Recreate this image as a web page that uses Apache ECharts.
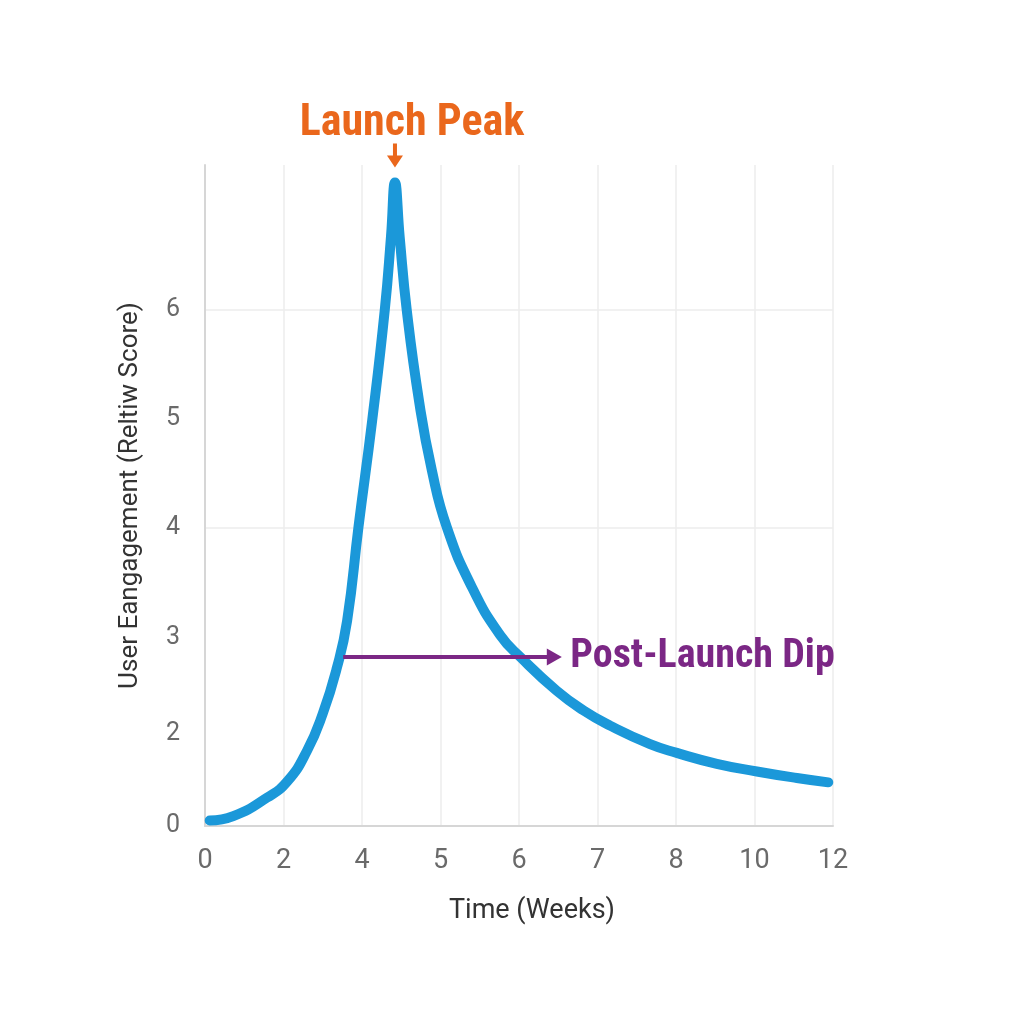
<!DOCTYPE html>
<html>
<head>
<meta charset="utf-8">
<script src="https://cdn.jsdelivr.net/npm/echarts@6/dist/echarts.min.js"></script>
<style>
  html, body { margin: 0; padding: 0; background: #ffffff; }
  #chart { width: 1024px; height: 1024px; }
</style>
</head>
<body>
<div id="chart"></div>
<script>
// x ticks are evenly spaced slots, each slot carries its own week label
const xTickLabels = ['0', '2', '4', '5', '6', '7', '8', '10', '12'];
// y labels sit at uneven heights on the axis
const yTickValues = [1.27, 2.12, 3, 4, 5, 6];
const yTickLabels = ['0', '2', '3', '4', '5', '6'];
const yGridValues = [4, 6];

// curve (x = tick slot, y = axis units)
const weekPos = [0.06, 0.36, 0.79, 1.05, 1.30, 1.50, 1.68, 1.81, 1.955, 2.13, 2.29, 2.37, 2.42,
  2.48, 2.57, 2.73, 2.89, 3.08, 3.40, 3.76, 4.03, 4.48, 4.82, 5.16, 5.67, 6.01, 6.52, 7.03, 7.54, 7.94];
const engagement = [1.32, 1.36, 1.53, 1.68, 1.96, 2.30, 2.72, 3.15, 4.01, 4.99, 6.00, 6.68, 7.17,
  6.67, 6.00, 5.15, 4.53, 4.01, 3.46, 3.02, 2.81, 2.51, 2.33, 2.19, 2.02, 1.94, 1.84, 1.77, 1.71, 1.67];

// annotations
const peakPoint = [2.42, 7.17];
const dipFrom = [1.76, 2.82];
const dipTo = [4.45, 2.82];

const BLUE = '#1b98d9';
const ORANGE = '#ea671c';
const PURPLE = '#7b2785';
const NOTE_FONT = 'Roboto';

let points = [];
for (let i = 0; i < weekPos.length; i++) {
  points.push([weekPos[i], engagement[i]]);
}

let chart = echarts.init(document.getElementById('chart'));

let option = {
  backgroundColor: '#ffffff',
  animation: false,
  grid: {
    left: 205,
    right: 191,
    top: 165,
    bottom: 198
  },
  xAxis: {
    type: 'value',
    min: 0,
    max: 8,
    interval: 1,
    name: 'Time (Weeks)',
    nameLocation: 'middle',
    nameGap: 72,
    nameTextStyle: {
      fontFamily: 'Roboto',
      fontSize: 27,
      color: '#333333',
      padding: [0, 0, 0, 26]
    },
    axisLine: { lineStyle: { color: '#d6d6d6', width: 2 } },
    axisTick: { show: false },
    axisLabel: {
      fontFamily: 'Roboto',
      fontSize: 27,
      color: '#6a6a6a',
      margin: 22,
      formatter: function (v) {
        return xTickLabels[Math.round(v)];
      }
    },
    splitLine: { show: true, lineStyle: { color: '#ececec', width: 1.5 } }
  },
  yAxis: {
    type: 'value',
    min: 1.27,
    max: 7.33,
    name: 'User Eangagement (Reltiw Score)',
    nameLocation: 'middle',
    nameGap: 62,
    nameTextStyle: {
      fontFamily: 'Roboto',
      fontSize: 26,
      color: '#333333'
    },
    axisLine: { show: true, lineStyle: { color: '#d6d6d6', width: 2 } },
    axisTick: { show: false, customValues: yGridValues },
    axisLabel: {
      fontFamily: 'Roboto',
      fontSize: 25,
      color: '#6a6a6a',
      margin: 25,
      padding: [6, 0, 0, 0],
      customValues: yTickValues,
      formatter: function (v) {
        let best = 0;
        for (let i = 1; i < yTickValues.length; i++) {
          if (Math.abs(yTickValues[i] - v) < Math.abs(yTickValues[best] - v)) best = i;
        }
        return yTickLabels[best];
      }
    },
    splitLine: { show: true, lineStyle: { color: '#ececec', width: 1.5 } }
  },
  series: [{
    type: 'line',
    data: points,
    smooth: 0.5,
    symbol: 'none',
    clip: false,
    lineStyle: {
      color: BLUE,
      width: 10,
      cap: 'round',
      join: 'round'
    },
    z: 3,
    markPoint: {
      silent: true,
      data: [{
        coord: peakPoint,
        symbol: 'path://M6,0 L10,0 L10,12 L16,12 L8,24 L0,12 L6,12 Z',
        symbolSize: [16, 24],
        symbolOffset: [0, -27],
        itemStyle: { color: ORANGE },
        label: {
          show: true,
          position: 'top',
          distance: 4,
          offset: [17, 7],
          formatter: 'Launch Peak',
          fontFamily: NOTE_FONT,
          fontWeight: 'bold condensed',
          fontSize: 44,
          color: ORANGE
        }
      }]
    },
    markLine: {
      silent: true,
      symbol: ['none', 'triangle'],
      symbolSize: [17, 15],
      lineStyle: { color: PURPLE, width: 4, type: 'solid' },
      label: {
        show: true,
        position: 'end',
        distance: 16,
        formatter: 'Post-Launch Dip',
        fontFamily: NOTE_FONT,
        fontWeight: 'bold condensed',
        fontSize: 40,
        color: PURPLE
      },
      data: [[
        { coord: dipFrom },
        { coord: dipTo }
      ]]
    }
  }]
};

chart.setOption(option);
</script>
</body>
</html>
